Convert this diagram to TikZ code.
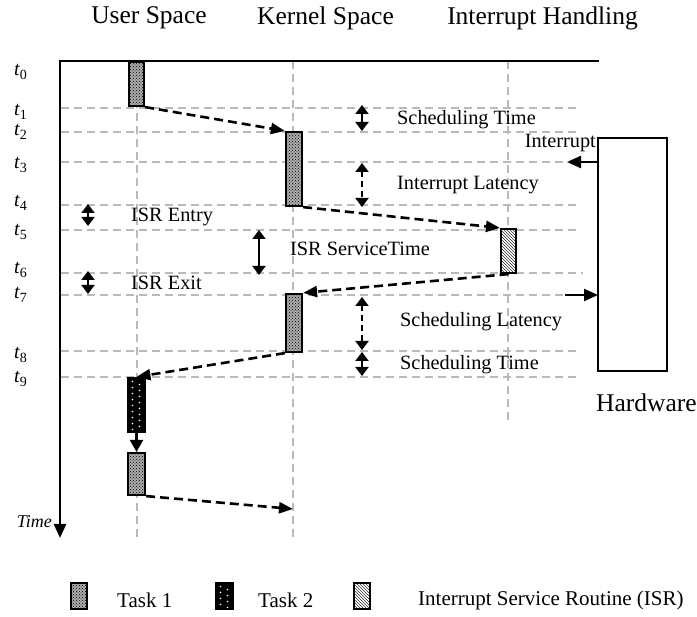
\documentclass[tikz,border=0pt]{standalone}
\usepackage{fontspec}
\setmainfont{Liberation Serif}
\usetikzlibrary{arrows.meta,patterns}
\begin{document}
\begin{tikzpicture}[x=1pt,y=-1pt,
  grid/.style={draw=gray!55, line width=2.2pt, dash pattern=on 8pt off 5pt},
  boxbase/.style={draw=black, line width=2.2pt, inner sep=0pt, rectangle},
  taskone/.style={boxbase, preaction={fill=gray!65}, pattern=crosshatch dots, pattern color=black},
  tasktwo/.style={boxbase, fill=black, path picture={
      \foreach \i in {0,...,9}{
        \fill[white] ([xshift=4.5pt,yshift=-\i*6pt-3.5pt]path picture bounding box.north west) circle (0.9pt);
        \fill[white] ([xshift=11.5pt,yshift=-\i*6pt-6.5pt]path picture bounding box.north west) circle (0.9pt);}}},
  isrbox/.style={boxbase, preaction={fill=white}, pattern=north west lines, pattern color=black!80},
  flow/.style={-{Triangle[length=14pt,width=11pt]}, line width=2.6pt, dash pattern=on 9pt off 5pt},
  span/.style={{Triangle[length=9pt,width=13pt]}-{Triangle[length=9pt,width=13pt]}, line width=2pt},
  head/.style={font=\fontsize{25.5pt}{30pt}\selectfont, inner sep=0pt},
  lab/.style={font=\fontsize{20.3pt}{24pt}\selectfont, anchor=west, inner sep=0pt},
  tlab/.style={font=\fontsize{20pt}{22pt}\selectfont\itshape, anchor=west, inner sep=0pt},
]
\useasboundingbox (0,0) rectangle (697,617);

% headers
\node[head] (hu) at (149,18) {User Space};
\node[head] (hk) at (325.5,18) {Kernel Space};
\node[head] (hi) at (542.5,18) {Interrupt Handling};

% grid: vertical
\draw[grid] (137,61) -- (137,538);
\draw[grid] (293,61) -- (293,538);
\draw[grid] (508,61) -- (508,420);
% grid: horizontal
\foreach \yy/\xe in {108/580,132/580,162/565,205/580,230/580,273/583,295/563,351/578,377/578}
  \draw[grid] (61,\yy) -- (\xe,\yy);

% time axis
\coordinate (topend) at (599,61);
\coordinate (origin) at (60,61);
\coordinate (tend) at (60,538);
\draw[line width=2.4pt, -{Triangle[length=14pt,width=12pt]}] (topend) -- (origin) -- (tend);
\node[font=\fontsize{18pt}{20pt}\selectfont\itshape, anchor=east, inner sep=0pt] (timelab) at (52,522) {Time};

% t labels
\foreach \k/\yy in {0/72,1/112,2/132,3/165,4/203,5/232,6/270,7/295,8/355,9/379}
  \node[tlab] (t\k) at (14,\yy) {t\raisebox{-4.5pt}{\fontsize{14pt}{15pt}\selectfont\upshape\k}};

% boxes
\node[taskone, minimum width=15pt, minimum height=44pt] (u1) at (136.5,84) {};
\node[taskone, minimum width=16pt, minimum height=74pt] (k1) at (294,169) {};
\node[isrbox, minimum width=15pt, minimum height=44pt] (isr) at (508.5,251) {};
\node[taskone, minimum width=16pt, minimum height=58pt] (k2) at (294,323) {};
\node[tasktwo, minimum width=17pt, minimum height=54pt] (t2) at (136.5,405) {};
\node[taskone, minimum width=17pt, minimum height=42pt] (u2) at (136.5,474) {};
\coordinate (k3) at (293,509);

% hardware
\node[boxbase, minimum width=69pt, minimum height=233pt] (hw) at (632.5,254.5) {};
\node[head, anchor=west] (hwlab) at (596,403) {Hardware};
\coordinate (irqtip) at (567,162);
\coordinate (hwout) at (598,162);
\coordinate (hwinstart) at (565,295);
\coordinate (hwin) at (598,295);
\draw[line width=2.4pt, -{Triangle[length=14pt,width=12pt]}] (hwout) -- (irqtip);
\draw[line width=2.4pt, -{Triangle[length=14pt,width=12pt]}] (hwinstart) -- (hwin);
\node[lab, anchor=east] (irqlab) at (596,143) {Interrupt};

% flow arrows
\draw[flow] (u1.south east) -- (k1.north west);
\draw[flow] (k1.south east) -- (isr.north west);
\draw[flow] (isr.south) -- (k2.north east);
\draw[flow] (k2.south west) -- (t2.north);
\draw[line width=2.4pt, -{Triangle[length=12pt,width=13pt]}] (t2.south) -- (u2.north);
\draw[flow] (u2.south east) -- (k3);

% spans
\coordinate (s1a) at (362,105); \coordinate (s1b) at (362,131);
\coordinate (s2a) at (362,163); \coordinate (s2b) at (362,207);
\coordinate (s3a) at (88,204);  \coordinate (s3b) at (88,226);
\coordinate (s4a) at (259,230); \coordinate (s4b) at (259,275);
\coordinate (s5a) at (88,271);  \coordinate (s5b) at (88,294);
\coordinate (s6a) at (362,297); \coordinate (s6b) at (362,350);
\coordinate (s7a) at (362,352); \coordinate (s7b) at (362,376);
\draw[span] (s1a) -- (s1b);
\draw[span, dash pattern=on 6pt off 4pt] (s2a) -- (s2b);
\draw[span] (s3a) -- (s3b);
\draw[span] (s4a) -- (s4b);
\draw[span] (s5a) -- (s5b);
\draw[span, dash pattern=on 6pt off 4pt] (s6a) -- (s6b);
\draw[span] (s7a) -- (s7b);

\node[lab] (l1) at (397,120) {Scheduling Time};
\node[lab] (l2) at (397,185) {Interrupt Latency};
\node[lab] (l3) at (131,217) {ISR Entry};
\node[lab] (l4) at (290,249) {ISR ServiceTime};
\node[lab] (l5) at (131,283) {ISR Exit};
\node[lab] (l6) at (400,322) {Scheduling Latency};
\node[lab] (l7) at (400,365) {Scheduling Time};

% legend
\node[taskone, minimum width=16pt, minimum height=26pt] (lg1) at (79,596) {};
\node[lab, font=\fontsize{21pt}{24pt}\selectfont] (lt1) at (117,600) {Task 1};
\node[tasktwo, minimum width=17pt, minimum height=26pt] (lg2) at (224.5,596) {};
\node[lab, font=\fontsize{21pt}{24pt}\selectfont] (lt2) at (258,600) {Task 2};
\node[isrbox, minimum width=16pt, minimum height=26pt] (lg3) at (362,596) {};
\node[lab, font=\fontsize{21pt}{24pt}\selectfont] (lt3) at (418,600) {Interrupt Service Routine (ISR)};
\end{tikzpicture}
\end{document}
